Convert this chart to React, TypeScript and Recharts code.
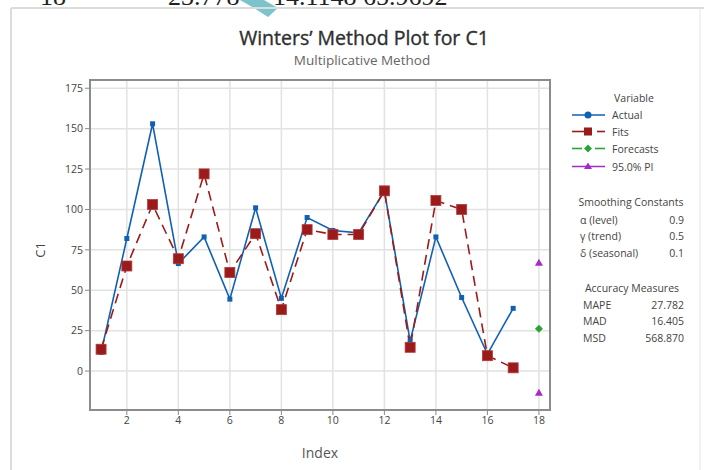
import React from 'react';
import { ComposedChart, Line, XAxis, YAxis, CartesianGrid } from 'recharts';

const indexValues = [1, 2, 3, 4, 5, 6, 7, 8, 9, 10, 11, 12, 13, 14, 15, 16, 17, 18];
const actualValues = [11.5, 82, 153, 66.5, 83, 44.5, 101, 45, 95, 87, 85.5, 111.5, 18.5, 83, 45.5, 10.5, 38.8, null];
const fitsValues = [13.5, 65, 103, 69.5, 122, 61, 85, 38, 87.5, 84.5, 84.5, 111.5, 14.7, 105.5, 100, 9.5, 2, null];
const forecastValues = [null, null, null, null, null, null, null, null, null, null, null, null, null, null, null, null, null, 26.2];
const piUpperValues = [null, null, null, null, null, null, null, null, null, null, null, null, null, null, null, null, null, 67];
const piLowerValues = [null, null, null, null, null, null, null, null, null, null, null, null, null, null, null, null, null, -13.4];
const xTicks = [2, 4, 6, 8, 10, 12, 14, 16, 18];
const yTicks = [0, 25, 50, 75, 100, 125, 150, 175];

const data = indexValues.map((idx, i) => ({
  idx,
  actual: actualValues[i],
  fits: fitsValues[i],
  forecast: forecastValues[i],
  piUpper: piUpperValues[i],
  piLower: piLowerValues[i],
}));

const FONT = '"Open Sans", "Noto Sans", sans-serif';
const SERIF = '"Liberation Serif", serif';
const BLUE = '#1060b3';
const RED = '#9b1b1b';
const GREEN = '#2aa33a';
const PURPLE = '#a52ac8';

const ok = (p: any) => p && typeof p.cx === 'number' && typeof p.cy === 'number' && !isNaN(p.cy);

const ActualDot = (p: any) => {
  if (!ok(p) || p.value == null) return <g key={`a${p.index}`} />;
  return <rect key={`a${p.index}`} x={p.cx - 2.5} y={p.cy - 2.5} width={5} height={5} fill={BLUE} />;
};
const FitDot = (p: any) => {
  if (!ok(p) || p.value == null) return <g key={`f${p.index}`} />;
  return <rect key={`f${p.index}`} x={p.cx - 5} y={p.cy - 5} width={10} height={10} fill={RED} stroke="#b03a3a" strokeWidth={0.8} />;
};
const DiamondDot = (p: any) => {
  if (!ok(p) || p.value == null) return <g key={`d${p.index}`} />;
  const { cx, cy } = p;
  return <polygon key={`d${p.index}`} points={`${cx},${cy - 4} ${cx + 4},${cy} ${cx},${cy + 4} ${cx - 4},${cy}`} fill={GREEN} />;
};
const TriDot = (p: any) => {
  if (!ok(p) || p.value == null) return <g key={`t${p.index}`} />;
  const { cx, cy } = p;
  return <polygon key={`t${p.index}`} points={`${cx},${cy - 4} ${cx + 4},${cy + 3} ${cx - 4},${cy + 3}`} fill={PURPLE} />;
};

export default function App() {
  return (
    <div style={{ position: 'absolute', left: 0, top: 0, width: 704, height: 470, background: '#fff', overflow: 'hidden' }}>
      {/* panel chrome */}
      <svg width={704} height={470} style={{ position: 'absolute', left: 0, top: 0 }}>
        <polygon points="240,0 264,0 278,8 268,17 254,8" fill="#7cc3cc" />
        <text x={40} y={5} fontFamily={SERIF} fontSize={26} fill="#222">18</text>
        <text x={168} y={5} fontFamily={SERIF} fontSize={26} fill="#222">23.778</text>
        <text x={273} y={5} fontFamily={SERIF} fontSize={26} fill="#222">14.1148</text>
        <text x={363} y={5} fontFamily={SERIF} fontSize={26} fill="#222">65.9692</text>
        <line x1={11} y1={8} x2={704} y2={8} stroke="#dcdcdc" strokeWidth={2} />
        <line x1={11} y1={8} x2={11} y2={470} stroke="#dcdcdc" strokeWidth={2} />
        <line x1={700} y1={8} x2={700} y2={470} stroke="#e4e4e4" strokeWidth={1} />
      </svg>
      <div style={{ position: 'absolute', left: 0, top: 0 }}>
        <ComposedChart width={704} height={470} data={data} margin={{ top: 80, right: 154, bottom: 30, left: 50 }}>
          <CartesianGrid stroke="#e2e2e2" strokeWidth={1.5} />
          <XAxis
            dataKey="idx"
            type="number"
            domain={[0.57, 18.43]}
            ticks={xTicks}
            allowDataOverflow
            height={30}
            tick={{ fontSize: 10.5, fill: '#444', fontFamily: FONT }}
            tickLine={{ stroke: '#888' }}
            axisLine={false}
            tickSize={5}
          />
          <YAxis
            type="number"
            domain={[-24.1, 180.1]}
            ticks={yTicks}
            allowDataOverflow
            width={40}
            tick={{ fontSize: 10.5, fill: '#444', fontFamily: FONT }}
            tickLine={{ stroke: '#888' }}
            axisLine={false}
            tickSize={5}
          />
          <Line dataKey="actual" stroke={BLUE} strokeWidth={1.6} dot={ActualDot} activeDot={false} isAnimationActive={false} connectNulls={false} />
          <Line dataKey="fits" stroke={RED} strokeWidth={1.6} strokeDasharray="10 6" dot={FitDot} activeDot={false} isAnimationActive={false} />
          <Line dataKey="forecast" stroke={GREEN} dot={DiamondDot} activeDot={false} isAnimationActive={false} />
          <Line dataKey="piUpper" stroke={PURPLE} dot={TriDot} activeDot={false} isAnimationActive={false} />
          <Line dataKey="piLower" stroke={PURPLE} dot={TriDot} activeDot={false} isAnimationActive={false} />
        </ComposedChart>
      </div>
      <svg width={704} height={470} style={{ position: 'absolute', left: 0, top: 0, pointerEvents: 'none' }} fontFamily={FONT}>
        <rect x={90} y={80} width={460} height={330} fill="none" stroke="#8c8c8c" strokeWidth={2} />
        <text x={364} y={45} textAnchor="middle" fontSize={19.5} fill="#2e2e2e" stroke="#2e2e2e" strokeWidth={0.35}>Winters’ Method Plot for C1</text>
        <text x={362} y={65} textAnchor="middle" fontSize={13.5} fill="#666">Multiplicative Method</text>
        <text x={45} y={250} textAnchor="middle" fontSize={13} fill="#444" transform="rotate(-90 45 250)">C1</text>
        <text x={320} y={458} textAnchor="middle" fontSize={14} fill="#555">Index</text>

        {/* legend */}
        <g fontSize={10.5} fill="#444">
          <text x={634} y={102} textAnchor="middle">Variable</text>
          <line x1={572} y1={115} x2={605} y2={115} stroke={BLUE} strokeWidth={1.6} />
          <circle cx={588} cy={115} r={3.5} fill={BLUE} />
          <text x={612} y={119}>Actual</text>
          <line x1={572} y1={131.5} x2={584} y2={131.5} stroke={RED} strokeWidth={1.6} />
          <rect x={584} y={127.5} width={8} height={8} fill={RED} />
          <line x1={597} y1={131.5} x2={605} y2={131.5} stroke={RED} strokeWidth={1.6} />
          <text x={612} y={135.5}>Fits</text>
          <line x1={572} y1={148.5} x2={582} y2={148.5} stroke={GREEN} strokeWidth={1.6} />
          <polygon points="588,144.5 592,148.5 588,152.5 584,148.5" fill={GREEN} />
          <line x1={595} y1={148.5} x2={605} y2={148.5} stroke={GREEN} strokeWidth={1.6} />
          <text x={612} y={152.5}>Forecasts</text>
          <line x1={572} y1={166.5} x2={605} y2={166.5} stroke={PURPLE} strokeWidth={1.6} />
          <polygon points="588,162.5 592,169 584,169" fill={PURPLE} />
          <text x={612} y={170.5}>95.0% PI</text>

          <text x={631} y={206} textAnchor="middle">Smoothing Constants</text>
          <text x={580} y={223.5}>α (level)</text>
          <text x={684} y={223.5} textAnchor="end">0.9</text>
          <text x={580} y={240}>γ (trend)</text>
          <text x={684} y={240} textAnchor="end">0.5</text>
          <text x={580} y={257}>δ (seasonal)</text>
          <text x={684} y={257} textAnchor="end">0.1</text>

          <text x={632} y={291.5} textAnchor="middle">Accuracy Measures</text>
          <text x={583} y={308.5}>MAPE</text>
          <text x={684} y={308.5} textAnchor="end">27.782</text>
          <text x={583} y={325}>MAD</text>
          <text x={684} y={325} textAnchor="end">16.405</text>
          <text x={583} y={342}>MSD</text>
          <text x={684} y={342} textAnchor="end">568.870</text>
        </g>
      </svg>
    </div>
  );
}
